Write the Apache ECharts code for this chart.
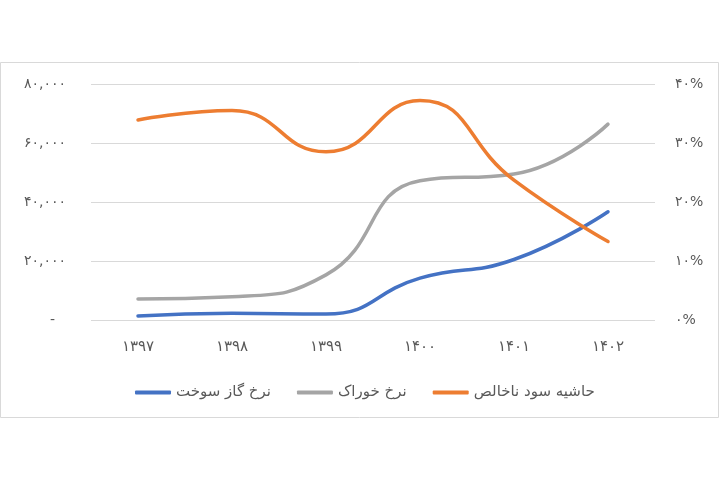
<!DOCTYPE html>
<html>
<head>
<meta charset="utf-8">
<script src="https://cdn.jsdelivr.net/npm/echarts@6/dist/echarts.min.js"></script>
<style>
html,body{margin:0;padding:0;background:#fff;}
#c{width:720px;height:480px;}
</style>
</head>
<body>
<div id="c"></div>
<script>
const categories = ['۱۳۹۷', '۱۳۹۸', '۱۳۹۹', '۱۴۰۰', '۱۴۰۱', '۱۴۰۲'];
const fuelGasRate = [1350, 2300, 2000, 14200, 20500, 36700];
const feedRate = [7100, 7900, 15300, 47200, 49500, 66400];
const grossMargin = [33.9, 35.5, 28.5, 37.2, 23.7, 13.3];
const seriesNames = ['نرخ گاز سوخت', 'نرخ خوراک', 'حاشیه سود ناخالص'];

const fa = s => String(s).replace(/[0-9]/g, d => '۰۱۲۳۴۵۶۷۸۹'[d]);
const fontFamily = "'DejaVu Sans', 'Noto Sans', sans-serif";
const txt = '#595959';

const chart = echarts.init(document.getElementById('c'));
chart.setOption({
  backgroundColor: '#fff',
  animation: false,
  graphic: [{
    type: 'rect', z: -1,
    shape: {x: 0.5, y: 62.5, width: 718, height: 355},
    style: {fill: '#fff', stroke: '#d9d9d9', lineWidth: 1}
  }],
  grid: {left: 91, right: 65, top: 84, bottom: 160},
  legend: {
    data: seriesNames,
    left: 130, top: 380,
    itemWidth: 36, itemHeight: 4, itemGap: 26,
    icon: 'roundRect',
    textStyle: {color: txt, fontSize: 15, fontFamily}
  },
  xAxis: {
    type: 'category',
    data: categories,
    axisLine: {show: false},
    axisTick: {show: false},
    axisLabel: {color: txt, fontSize: 15, fontFamily, margin: 20}
  },
  yAxis: [{
    type: 'value', min: 0, max: 80000, interval: 20000,
    axisLine: {show: false}, axisTick: {show: false},
    splitLine: {lineStyle: {color: '#d9d9d9', width: 1}},
    axisLabel: {
      color: txt, fontSize: 14, fontFamily, margin: 25,
      formatter: v => v === 0 ? '{d|-}' : fa(v.toLocaleString('en-US')),
      rich: {d: {color: txt, fontSize: 14, fontFamily, padding: [0, 11, 0, 0]}}
    }
  }, {
    type: 'value', min: 0, max: 40, interval: 10,
    axisLine: {show: false}, axisTick: {show: false},
    splitLine: {show: false},
    axisLabel: {
      color: txt, fontSize: 14, fontFamily, margin: 20,
      formatter: v => fa(v) + '%'
    }
  }],
  series: [{
    name: seriesNames[0], type: 'line', data: fuelGasRate, smooth: 0.5,
    symbol: 'none', color: '#4472C4',
    lineStyle: {width: 3.5, cap: 'round'}
  }, {
    name: seriesNames[1], type: 'line', data: feedRate, smooth: 0.5,
    symbol: 'none', color: '#A5A5A5',
    lineStyle: {width: 3.5, cap: 'round'}
  }, {
    name: seriesNames[2], type: 'line', data: grossMargin, smooth: 0.5,
    yAxisIndex: 1, symbol: 'none', color: '#ED7D31',
    lineStyle: {width: 3.5, cap: 'round'}
  }]
});
</script>
</body>
</html>
